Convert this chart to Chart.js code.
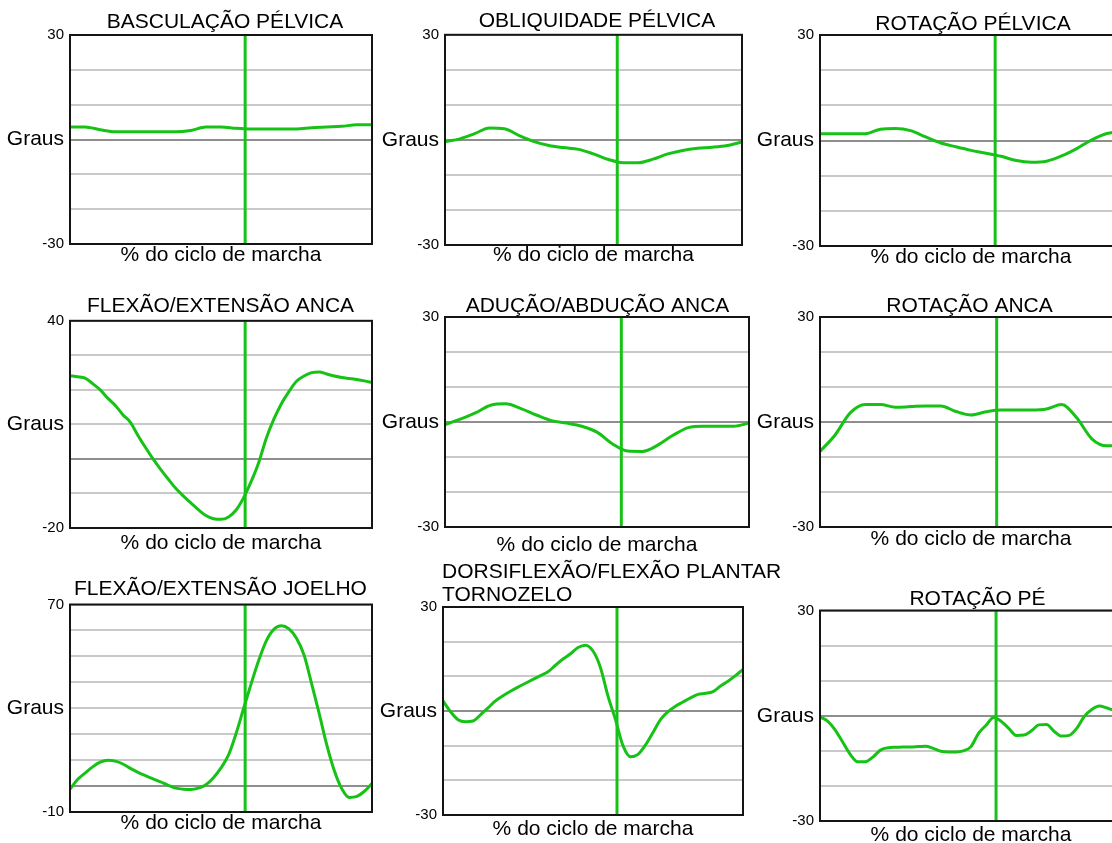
<!DOCTYPE html>
<html><head><meta charset="utf-8">
<script src="https://cdn.jsdelivr.net/npm/chart.js@4.4.0/dist/chart.umd.min.js"></script>
<style>
html,body{margin:0;padding:0;background:#fff;overflow:hidden;width:1112px;height:843px;position:relative;}
canvas{position:absolute;}
</style></head><body>
<script>
// ---------- data ----------
const pct5 = [0,5,10,15,20,25,30,35,40,45,50,55,60,65,70,75,80,85,90,95,100];
const pct25 = [0,2.5,5,7.5,10,12.5,15,17.5,20,22.5,25,27.5,30,32.5,35,37.5,40,42.5,45,47.5,50,52.5,55,57.5,60,62.5,65,67.5,70,72.5,75,77.5,80,82.5,85,87.5,90,92.5,95,97.5,100];

const titles = [
  'BASCULAÇÃO PÉLVICA',
  'OBLIQUIDADE PÉLVICA',
  'ROTAÇÃO PÉLVICA',
  'FLEXÃO/EXTENSÃO ANCA',
  'ADUÇÃO/ABDUÇÃO ANCA',
  'ROTAÇÃO ANCA',
  'FLEXÃO/EXTENSÃO JOELHO',
  ['DORSIFLEXÃO/FLEXÃO PLANTAR', 'TORNOZELO'],
  'ROTAÇÃO PÉ'
];
const xTitle = '% do ciclo de marcha';
const yTitle = 'Graus';
const yMin = [-30,-30,-30,-20,-30,-30,-10,-30,-30];
const yMax = [30,30,30,40,30,30,70,30,30];
const toeOff = [58,58,58,58,58,58.5,58,58,58.3];

const basculacaoPelvica = [3.6,3.6,2.8,2.2,2.2,2.2,2.2,2.2,2.6,3.6,3.6,3.2,3.0,3.0,3.0,3.0,3.4,3.6,3.8,4.2,4.2];
const obliquidadePelvica = [-0.5,0.3,1.8,3.4,3.2,1.2,-0.5,-1.6,-2.2,-2.7,-4.0,-5.6,-6.5,-6.5,-5.5,-4.0,-3.0,-2.4,-2.1,-1.6,-0.6];
const rotacaoPelvica = [1.9,1.9,1.9,1.9,3.2,3.4,2.8,1.0,-0.7,-1.8,-2.8,-3.6,-4.5,-5.7,-6.2,-5.9,-4.4,-2.3,0.2,2.0,2.6];
const flexaoAnca = [24.1,23.8,23.4,21.8,20.0,17.6,15.5,12.8,10.6,6.8,3.3,0.0,-3.0,-5.8,-8.5,-10.7,-12.7,-14.7,-16.4,-17.3,-17.5,-16.8,-14.8,-11.2,-6.5,-1.0,6.0,11.5,16.0,19.5,22.5,24.0,25.0,25.2,24.6,24.0,23.6,23.3,23.0,22.6,22.1];
const aducaoAnca = [-0.8,0.8,2.6,4.8,5.2,3.8,2.0,0.4,-0.3,-1.2,-2.9,-6.2,-8.3,-8.4,-6.6,-3.8,-1.6,-1.2,-1.2,-1.2,-0.3];
const rotacaoAnca = [-8.4,-3.7,2.6,5.0,5.0,4.2,4.4,4.6,4.6,3.0,2.0,2.9,3.4,3.4,3.4,3.7,5.0,1.2,-4.8,-6.8,-6.8];
const flexaoJoelho = [-1.2,2.5,5.0,7.4,9.2,10.0,9.6,8.5,6.8,5.3,4.0,2.8,1.6,0.3,-0.8,-1.2,-1.3,-0.8,0.5,3.2,7.0,12.0,20.3,30.0,39.5,48.5,56.0,60.4,61.8,60.6,57.0,50.5,39.5,28.0,16.0,6.0,-1.0,-4.4,-4.0,-2.0,1.0];
const tornozelo = [2.9,-0.2,-2.5,-3.1,-2.9,-1.1,0.9,2.9,4.4,5.7,6.9,8.0,9.1,10.2,11.3,13.2,15.0,16.5,18.3,19.0,17.3,12.5,4.3,-2.5,-10.0,-13.2,-12.5,-9.8,-6.2,-2.5,-0.2,1.4,2.6,3.8,4.8,5.1,5.6,7.2,8.6,10.2,12.0];
const rotacaoPe = [-0.3,-1.5,-4.0,-7.5,-11.0,-13.1,-13.1,-11.8,-9.8,-9.1,-9.0,-8.9,-8.9,-8.8,-8.7,-9.3,-10.1,-10.3,-10.3,-10.0,-8.8,-5.0,-2.7,-0.5,-1.6,-3.6,-5.6,-5.5,-4.3,-2.6,-2.5,-4.4,-5.8,-5.6,-3.6,-0.2,1.8,2.8,2.2,1.6,1.6];

const series = [basculacaoPelvica, obliquidadePelvica, rotacaoPelvica, flexaoAnca, aducaoAnca, rotacaoAnca, flexaoJoelho, tornozelo, rotacaoPe];
const xValues = [pct5, pct5, pct5, pct25, pct5, pct5, pct25, pct25, pct25];

// ---------- layout (plot-area boxes in page pixels) ----------
const boxes = [
  {l:70,  r:372,  t:35,  b:244, tg:12.5, xg:11,   tc:225},
  {l:445, r:742,  t:35,  b:245, tg:13.3, xg:10,   tc:597},
  {l:820, r:1122, t:35,  b:246, tg:10.5, xg:11.5, tc:973},
  {l:70,  r:372,  t:321, b:528, tg:14.3, xg:15.7, tc:220.5},
  {l:445, r:749,  t:317, b:527, tg:10.3, xg:18,   tc:597.5},
  {l:820, r:1122, t:317, b:527, tg:9.5,  xg:12,   tc:969.5},
  {l:70,  r:372,  t:605, b:812, tg:15,   xg:11.5, tc:220.5},
  {l:443, r:743,  t:607, b:815, tg:12,   xg:14,   tc:null},
  {l:820, r:1122, t:611, b:821, tg:11,   xg:14,   tc:977.5}
];

const GREEN = '#17c217';
const FONT = "'Liberation Sans', Arial, Helvetica, sans-serif";
Chart.defaults.font.family = FONT;
Chart.defaults.color = '#000';

const framePlugin = {
  id: 'frame',
  afterDatasetsDraw(chart) {
    const {ctx, chartArea: a} = chart;
    ctx.save();
    ctx.strokeStyle = '#151515';
    ctx.lineWidth = 2;
    ctx.strokeRect(a.left, a.top, a.right - a.left, a.bottom - a.top);
    ctx.restore();
  }
};

// left-aligned multi-line title (starts at the plot's left edge)
const leftTitlePlugin = {
  id: 'leftTitle',
  afterDraw(chart, args, opts) {
    if (!opts || !opts.lines) return;
    const ctx = chart.ctx;
    ctx.save();
    ctx.font = '21px ' + FONT;
    ctx.fillStyle = '#000';
    ctx.textAlign = 'left';
    ctx.textBaseline = 'middle';
    opts.lines.forEach((t, k) => ctx.fillText(t, chart.chartArea.left - 1, opts.top + opts.lh / 2 + k * opts.lh));
    ctx.restore();
  }
};

const YW = 75, PADR = 4;

boxes.forEach((bx, i) => {
  const multi = Array.isArray(titles[i]);
  const nLines = multi ? titles[i].length : 1;
  const lh = multi ? 23.5 : 21;
  const pT = 3;
  const pB = Math.max(0, bx.tg - lh / 2);
  const titleH = Math.round(pT + nLines * lh + pB);
  const xH = Math.round(bx.xg + 10.5);
  const plotW = bx.r - bx.l;
  const rw = multi ? 60 : Math.max(0, Math.round(2 * (bx.tc - bx.l) + YW - plotW));
  const W = YW + plotW + rw + PADR;
  const H = titleH + (bx.b - bx.t) + xH;
  const cv = document.createElement('canvas');
  cv.width = W; cv.height = H;
  cv.style.width = W + 'px'; cv.style.height = H + 'px';
  cv.style.left = (bx.l - YW) + 'px';
  cv.style.top = (bx.t - titleH) + 'px';
  document.body.appendChild(cv);

  const mn = yMin[i], mx = yMax[i], mid = (mn + mx) / 2;
  new Chart(cv, {
    type: 'line',
    data: {
      datasets: [
        {
          data: xValues[i].map((p, k) => ({x: p, y: series[i][k]})),
          borderColor: GREEN, borderWidth: 3, pointRadius: 0,
          cubicInterpolationMode: 'monotone', xAxisID: 'x', yAxisID: 'y'
        },
        {
          data: [{x: toeOff[i], y: mn}, {x: toeOff[i], y: mx}],
          borderColor: GREEN, borderWidth: 3, pointRadius: 0,
          xAxisID: 'x', yAxisID: 'y'
        }
      ]
    },
    options: {
      responsive: false, animation: false, devicePixelRatio: 1,
      layout: {padding: {left: 0, right: PADR, top: multi ? titleH : 0, bottom: 0}},
      plugins: {
        legend: {display: false},
        tooltip: {enabled: false},
        title: {
          display: !multi, text: titles[i], align: 'center',
          color: '#000', font: {size: 21, weight: 'normal', lineHeight: lh / 21},
          padding: {top: pT, bottom: pB}
        },
        leftTitle: multi ? {lines: titles[i], top: pT, lh: lh} : {}
      },
      scales: {
        x: {
          type: 'linear', min: 0, max: 100,
          grid: {display: false}, border: {display: false},
          ticks: {display: false},
          title: {display: true, text: xTitle, color: '#000', font: {size: 21, lineHeight: 1}, padding: 0},
          afterFit(s) { s.height = xH; }
        },
        y: {
          type: 'linear', position: 'left', min: mn, max: mx,
          grid: {
            drawTicks: false, lineWidth: 2,
            color: (c) => (c.tick && c.tick.value === 0) ? '#8e8e8e' : '#c9c9c9'
          },
          border: {display: false},
          ticks: {
            stepSize: 10, autoSkip: false, padding: 6, color: '#000',
            font: (c) => ({size: (c.tick && c.tick.value === mid) ? 21 : 15, family: FONT}),
            callback: (v) => (v === mn || v === mx) ? String(v) : (v === mid ? yTitle : '')
          },
          afterFit(s) { s.width = YW; }
        },
        y2: {
          type: 'linear', position: 'right', min: 0, max: 1,
          display: rw > 0,
          grid: {display: false}, border: {display: false},
          ticks: {display: false},
          afterFit(s) { s.width = rw; }
        }
      }
    },
    plugins: [framePlugin, leftTitlePlugin]
  });
});
</script>
</body></html>
